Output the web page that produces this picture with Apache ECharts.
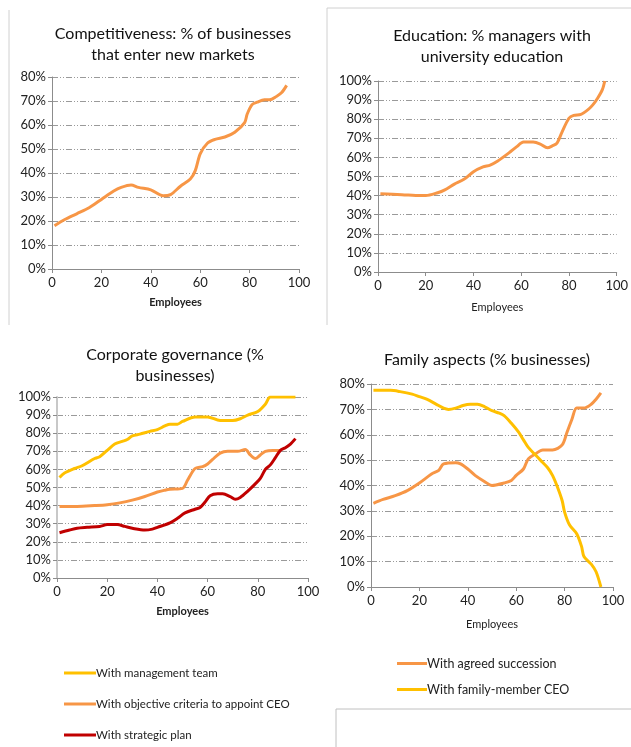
<!DOCTYPE html>
<html>
<head>
<meta charset="utf-8">
<script src="https://cdn.jsdelivr.net/npm/echarts@6/dist/echarts.min.js"></script>
<style>
  html, body { margin: 0; padding: 0; background: #fff; }
  #main { width: 631px; height: 747px; }
</style>
</head>
<body>
<div id="main"></div>
<script>
// competitiveness: % of businesses entering new markets
const compX = [1, 5, 10, 15, 20, 25, 28, 32, 35, 40, 45, 48, 52, 56, 58, 60, 63, 66, 70, 74, 78, 79, 81, 83, 86, 88, 91, 93, 95];
const compY = [18, 20.5, 23, 25.5, 29, 32.5, 34, 35, 34, 33, 30.5, 31, 34.5, 37.5, 41, 48, 52.5, 54, 55, 57, 61, 64.5, 68.5, 69.5, 70.5, 70.5, 72, 73.5, 76.5];

// education: % managers with university education
const eduX = [1, 10, 18, 20, 25, 28, 32, 36, 40, 44, 47, 50, 55, 58, 61, 65, 68, 71, 73, 75, 77, 80, 82, 85, 88, 90, 92, 94, 95];
const eduY = [41, 40.5, 40, 40, 41.5, 43, 46, 48.5, 52.5, 55, 56, 58, 62.5, 65.5, 68, 68, 67, 65, 66, 67.5, 73, 80.5, 82, 82.5, 85, 87.5, 91, 95.5, 100];

// corporate governance
const mgmtX = [1, 3, 7, 10, 15, 17, 20, 23, 26, 28, 30, 33, 37, 40, 43, 45, 48, 50, 55, 60, 65, 70, 73, 76, 80, 83, 85, 90, 95];
const mgmtY = [55.5, 58, 60.5, 62, 66, 67, 70.5, 74, 75.5, 76.5, 78.5, 79.5, 81, 82, 84, 85, 85, 86.5, 89, 89, 87, 87, 88, 90, 92, 96, 100, 100, 100];
const critX = [1, 5, 8, 15, 20, 25, 30, 35, 40, 43, 45, 50, 52, 55, 58, 60, 62, 65, 68, 72, 75, 77, 79, 81, 83, 86, 89];
const critY = [39.5, 39.5, 39.5, 40, 40.5, 41.5, 43, 45, 47.5, 48.5, 49, 49.5, 54, 60.5, 61.5, 63, 65.5, 69, 70, 70, 71, 68, 66, 68, 70, 70.5, 70.5];
const planX = [1, 5, 8, 12, 17, 20, 24, 27, 30, 35, 38, 40, 45, 48, 51, 55, 57, 59, 61, 64, 66, 69, 71, 73, 76, 79, 81, 83, 85, 87, 89, 91, 93, 95];
const planY = [25, 26.5, 27.5, 28, 28.5, 29.5, 29.5, 28.5, 27.5, 26.5, 27, 28, 30.5, 33, 36, 38, 39, 42, 45.5, 46.5, 46.5, 45, 43.5, 44.5, 48, 52, 55, 60, 62.5, 66.5, 70.5, 72, 74, 77];

// family aspects
const succX = [1, 5, 10, 15, 20, 25, 28, 30, 35, 37, 40, 43, 47, 50, 55, 58, 60, 63, 65, 68, 71, 75, 79, 81, 83, 85, 88, 91, 93, 95];
const succY = [33, 34.5, 36, 38, 41, 44.5, 46, 48.5, 49, 48.5, 46.5, 44, 41.5, 40, 41, 42, 44, 46.5, 50.5, 52.5, 54, 54, 56, 61, 66, 70.5, 70.5, 72, 74, 76.5];
const famX = [1, 8, 12, 17, 20, 23, 27, 30, 32, 35, 38, 41, 44, 47, 50, 53, 55, 58, 61, 63, 65, 68, 70, 73, 75, 77, 79, 80, 82, 85, 87, 88, 91, 93, 95];
const famY = [77.5, 77.5, 77, 76, 75, 74, 72, 70.5, 70, 70.5, 71.5, 72, 72, 71, 69.5, 68.5, 67.5, 64.5, 61, 58, 55, 52, 50, 47, 44, 39.5, 34, 29.5, 24.5, 21, 16, 12, 9, 6, 0];

const ORANGE = '#F79646', YELLOW = '#FFC000', RED = '#C00000';
const FONT = 'Lato, "Open Sans", sans-serif';
const pair = (xs, ys) => xs.map((x, i) => [x, ys[i]]);

function xAxisFor(idx, bold, gap) {
  return {
    gridIndex: idx, type: 'value', min: 0, max: 100, interval: 20,
    name: 'Employees', nameLocation: 'middle', nameGap: gap,
    nameTextStyle: { fontSize: 11, color: '#222', fontWeight: bold ? 'bold' : 'normal', fontFamily: FONT },
    axisLine: { lineStyle: { color: '#8c8c8c' } },
    axisTick: { show: true, length: 4, lineStyle: { color: '#8c8c8c' } },
    axisLabel: { fontSize: 13, color: '#222', fontFamily: FONT, margin: 7 },
    splitLine: { show: false }
  };
}
function yAxisFor(idx, max, thick) {
  return {
    gridIndex: idx, type: 'value', min: 0, max: max, interval: 10,
    axisLine: { show: true, lineStyle: { color: thick ? '#c8c8c8' : '#8c8c8c', width: thick ? 2 : 1 } },
    axisTick: { show: true, length: 4, lineStyle: { color: '#8c8c8c' } },
    axisLabel: { fontSize: 13, color: '#222', fontFamily: FONT, formatter: '{value}%', margin: 6 },
    splitLine: { show: true, lineStyle: { color: '#9a9a9a', width: 1, type: [6, 2, 1, 2, 1, 2] } }
  };
}
function line(name, idx, xs, ys, color, w) {
  return {
    name: name, type: 'line', xAxisIndex: idx, yAxisIndex: idx,
    data: pair(xs, ys), smooth: 0.3, showSymbol: false, symbol: 'none',
    lineStyle: { color: color, width: w || 3 }, itemStyle: { color: color }
  };
}
const titleStyle = { fontSize: 16, fontWeight: 'normal', color: '#111', fontFamily: FONT, lineHeight: 21 };

const chart = echarts.init(document.getElementById('main'));
chart.setOption({
  animation: false,
  backgroundColor: '#fff',
  title: [
    { text: 'Competitiveness: % of businesses\nthat enter new markets', left: 168, top: 18, textAlign: 'center', textStyle: titleStyle },
    { text: 'Education: % managers with\nuniversity education', left: 487, top: 20, textAlign: 'center', textStyle: titleStyle },
    { text: 'Corporate governance (%\nbusinesses)', left: 170, top: 339, textAlign: 'center', textStyle: titleStyle },
    { text: 'Family aspects (% businesses)', left: 482, top: 344, textAlign: 'center', textStyle: titleStyle }
  ],
  grid: [
    { left: 52, right: 332, top: 77, bottom: 478 },
    { left: 378, right: 12, top: 81, bottom: 475 },
    { left: 57, right: 323, top: 397, bottom: 169 },
    { left: 371, right: 18, top: 384, bottom: 160 }
  ],
  xAxis: [xAxisFor(0, true, 28), xAxisFor(1, false, 30), xAxisFor(2, true, 28), xAxisFor(3, false, 32)],
  yAxis: [yAxisFor(0, 80), yAxisFor(1, 100), yAxisFor(2, 100, true), yAxisFor(3, 80)],
  legend: [
    {
      data: ['With management team', 'With objective criteria to appoint CEO', 'With strategic plan'],
      orient: 'vertical', left: 64, top: 667, height: 100, padding: 0, itemGap: 19, itemWidth: 32, itemHeight: 3,
      icon: 'rect', textStyle: { fontSize: 11.5, color: '#222', fontFamily: FONT, padding: [0, 0, 0, -5] }
    },
    {
      data: ['With agreed succession', 'With family-member CEO'],
      orient: 'vertical', left: 397, top: 657, padding: 0, itemGap: 13, itemWidth: 30, itemHeight: 3,
      icon: 'rect', textStyle: { fontSize: 12.5, color: '#222', fontFamily: FONT, padding: [0, 0, 0, -5] }
    }
  ],
  graphic: [
    { type: 'line', shape: { x1: 9, y1: 10, x2: 9, y2: 325 }, style: { stroke: '#d0d0d0', lineWidth: 1 } },
    { type: 'line', shape: { x1: 327, y1: 8, x2: 327, y2: 325 }, style: { stroke: '#d0d0d0', lineWidth: 1 } },
    { type: 'line', shape: { x1: 327, y1: 8, x2: 631, y2: 8 }, style: { stroke: '#d0d0d0', lineWidth: 1 } },
    { type: 'line', shape: { x1: 336, y1: 709, x2: 631, y2: 709 }, style: { stroke: '#c0c0c0', lineWidth: 1 } },
    { type: 'line', shape: { x1: 336, y1: 709, x2: 336, y2: 747 }, style: { stroke: '#c0c0c0', lineWidth: 1 } }
  ],
  series: [
    line('Competitiveness', 0, compX, compY, ORANGE, 3),
    line('Education', 1, eduX, eduY, ORANGE, 3),
    line('With management team', 2, mgmtX, mgmtY, YELLOW, 3),
    line('With objective criteria to appoint CEO', 2, critX, critY, ORANGE, 3),
    line('With strategic plan', 2, planX, planY, RED, 3),
    line('With agreed succession', 3, succX, succY, ORANGE, 3),
    line('With family-member CEO', 3, famX, famY, YELLOW, 3)
  ]
});
</script>
</body>
</html>
